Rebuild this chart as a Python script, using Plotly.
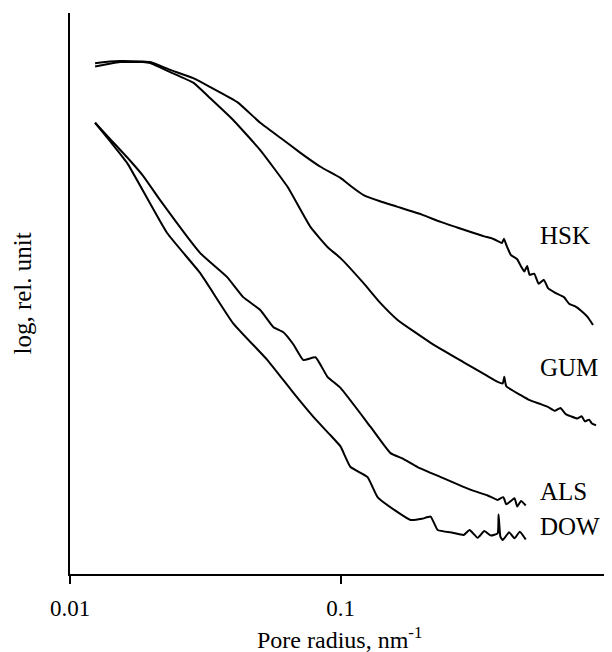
import math
import plotly.graph_objects as go

# Pore radius (nm^-1) and log relative intensity (arbitrary units)
hsk_x = [0.01238, 0.0140, 0.0153, 0.0186, 0.0198, 0.02346, 0.02855, 0.0330, 0.04155, 0.0505,
         0.05995, 0.0711, 0.0843, 0.1000, 0.1100, 0.1217, 0.1400, 0.1626, 0.2000, 0.2346,
         0.2700, 0.3110, 0.3400, 0.3600, 0.3800, 0.3950, 0.4020, 0.4100, 0.4260, 0.4500,
         0.4650, 0.4780, 0.4900, 0.5000, 0.5200, 0.5400, 0.5650, 0.5850, 0.6200, 0.6700,
         0.7000, 0.7400, 0.7940, 0.8200, 0.8580]
hsk_y = [9.10, 9.13, 9.14, 9.13, 9.12, 8.98, 8.83, 8.67, 8.40, 8.03,
         7.76, 7.49, 7.24, 7.04, 6.88, 6.73, 6.62, 6.52, 6.38, 6.25,
         6.15, 6.05, 5.99, 5.96, 5.91, 5.87, 5.95, 5.84, 5.66, 5.58,
         5.45, 5.36, 5.46, 5.30, 5.32, 5.14, 5.21, 5.06, 4.98, 4.90,
         4.78, 4.73, 4.61, 4.54, 4.40]

gum_x = [0.01238, 0.0140, 0.0153, 0.0186, 0.0198, 0.02346, 0.02855, 0.0330, 0.0401, 0.0505,
         0.0637, 0.0774, 0.0895, 0.1000, 0.1217, 0.1400, 0.1626, 0.2154, 0.2855, 0.3500,
         0.3810, 0.3980, 0.4030, 0.4100, 0.4640, 0.5000, 0.5500, 0.5840, 0.6200, 0.6500,
         0.6800, 0.7110, 0.7500, 0.7800, 0.8000, 0.8300, 0.8500, 0.8800]
gum_y = [9.04, 9.09, 9.12, 9.12, 9.10, 8.94, 8.75, 8.47, 8.08, 7.54,
         6.88, 6.16, 5.80, 5.60, 5.15, 4.80, 4.49, 4.08, 3.73, 3.48,
         3.38, 3.35, 3.47, 3.30, 3.14, 3.05, 2.98, 2.93, 2.86, 2.91,
         2.80, 2.76, 2.72, 2.76, 2.67, 2.70, 2.63, 2.60]

als_x = [0.01238, 0.01406, 0.01626, 0.0186, 0.02154, 0.0303, 0.0381, 0.0437, 0.0505, 0.0565,
         0.0615, 0.0670, 0.0729, 0.0808, 0.0895, 0.1000, 0.1292, 0.1531, 0.1700, 0.1928,
         0.2346, 0.3031, 0.3500, 0.3810, 0.4000, 0.4100, 0.4260, 0.4400, 0.4500, 0.4650,
         0.4840]
als_y = [8.03, 7.74, 7.41, 7.08, 6.64, 5.69, 5.26, 4.90, 4.67, 4.36,
         4.27, 4.05, 3.77, 3.82, 3.47, 3.27, 2.57, 2.10, 2.00, 1.85,
         1.67, 1.44, 1.34, 1.26, 1.31, 1.18, 1.24, 1.29, 1.14, 1.24,
         1.16]

dow_x = [0.01238, 0.01406, 0.01626, 0.02286, 0.0303, 0.0401, 0.0537, 0.0670, 0.0794, 0.0918,
         0.1000, 0.1089, 0.1259, 0.1371, 0.1626, 0.1816, 0.2000, 0.2154, 0.2287, 0.2600,
         0.2855, 0.3000, 0.3215, 0.3400, 0.3600, 0.3810, 0.3840, 0.3900, 0.3980, 0.4200,
         0.4400, 0.4600, 0.4840]
dow_y = [8.03, 7.70, 7.31, 6.05, 5.33, 4.43, 3.77, 3.18, 2.75, 2.42,
         2.22, 1.85, 1.67, 1.31, 1.04, 0.90, 0.92, 0.96, 0.72, 0.67,
         0.63, 0.72, 0.58, 0.70, 0.62, 0.66, 1.00, 0.60, 0.54, 0.68,
         0.57, 0.69, 0.55]

series_names = ["HSK", "GUM", "ALS", "DOW"]
label_x = [0.537, 0.537, 0.537, 0.537]
label_y = [6.01, 3.64, 1.41, 0.78]

tick_vals = [0.01, 0.1, 1]
tick_text = ["0.01", "0.1", "1"]

FONT = "Liberation Serif, Times New Roman, serif"
FS = 25

fig = go.Figure()
for xs, ys, nm in [(hsk_x, hsk_y, "HSK"), (gum_x, gum_y, "GUM"),
                   (als_x, als_y, "ALS"), (dow_x, dow_y, "DOW")]:
    fig.add_trace(go.Scatter(x=xs, y=ys, mode="lines", name=nm,
                             line=dict(color="black", width=2, shape="spline", smoothing=0.4),
                             showlegend=False))

for nm, lx, ly in zip(series_names, label_x, label_y):
    fig.add_annotation(x=math.log10(lx), y=ly, xref="x", yref="y", text=nm, showarrow=False,
                       xanchor="left", yanchor="middle",
                       font=dict(family=FONT, size=FS, color="black"))

fig.add_annotation(xref="paper", yref="paper", x=-0.0887, y=0.5, text="log, rel. unit",
                   textangle=-90, showarrow=False, xanchor="center", yanchor="middle",
                   font=dict(family=FONT, size=FS, color="black"))
fig.add_annotation(xref="paper", yref="paper", x=0.499, y=0, yshift=-64,
                   text="Pore radius, nm<sup>-1</sup>", showarrow=False,
                   xanchor="center", yanchor="middle",
                   font=dict(family=FONT, size=24, color="black"))

# page body has an 8px margin, so the figure is drawn 8px smaller and shifted
fig.update_layout(
    width=604, height=644,
    margin=dict(l=62, r=1, t=5, b=78),
    paper_bgcolor="white", plot_bgcolor="white",
    xaxis=dict(type="log", range=[-2, 0], tickvals=tick_vals, ticktext=tick_text,
               showline=True, linecolor="black", linewidth=2, ticks="outside",
               ticklen=8, tickwidth=1.5, tickcolor="black", showgrid=False,
               zeroline=False, automargin=False, ticklabelstandoff=4,
               ticklabeloverflow="allow",
               tickfont=dict(family=FONT, size=23, color="black")),
    yaxis=dict(range=[-0.07, 10.0], showline=True, linecolor="black", linewidth=2,
               showticklabels=False, ticks="", showgrid=False, zeroline=False,
               automargin=False),
)

fig.write_html("out.html")
